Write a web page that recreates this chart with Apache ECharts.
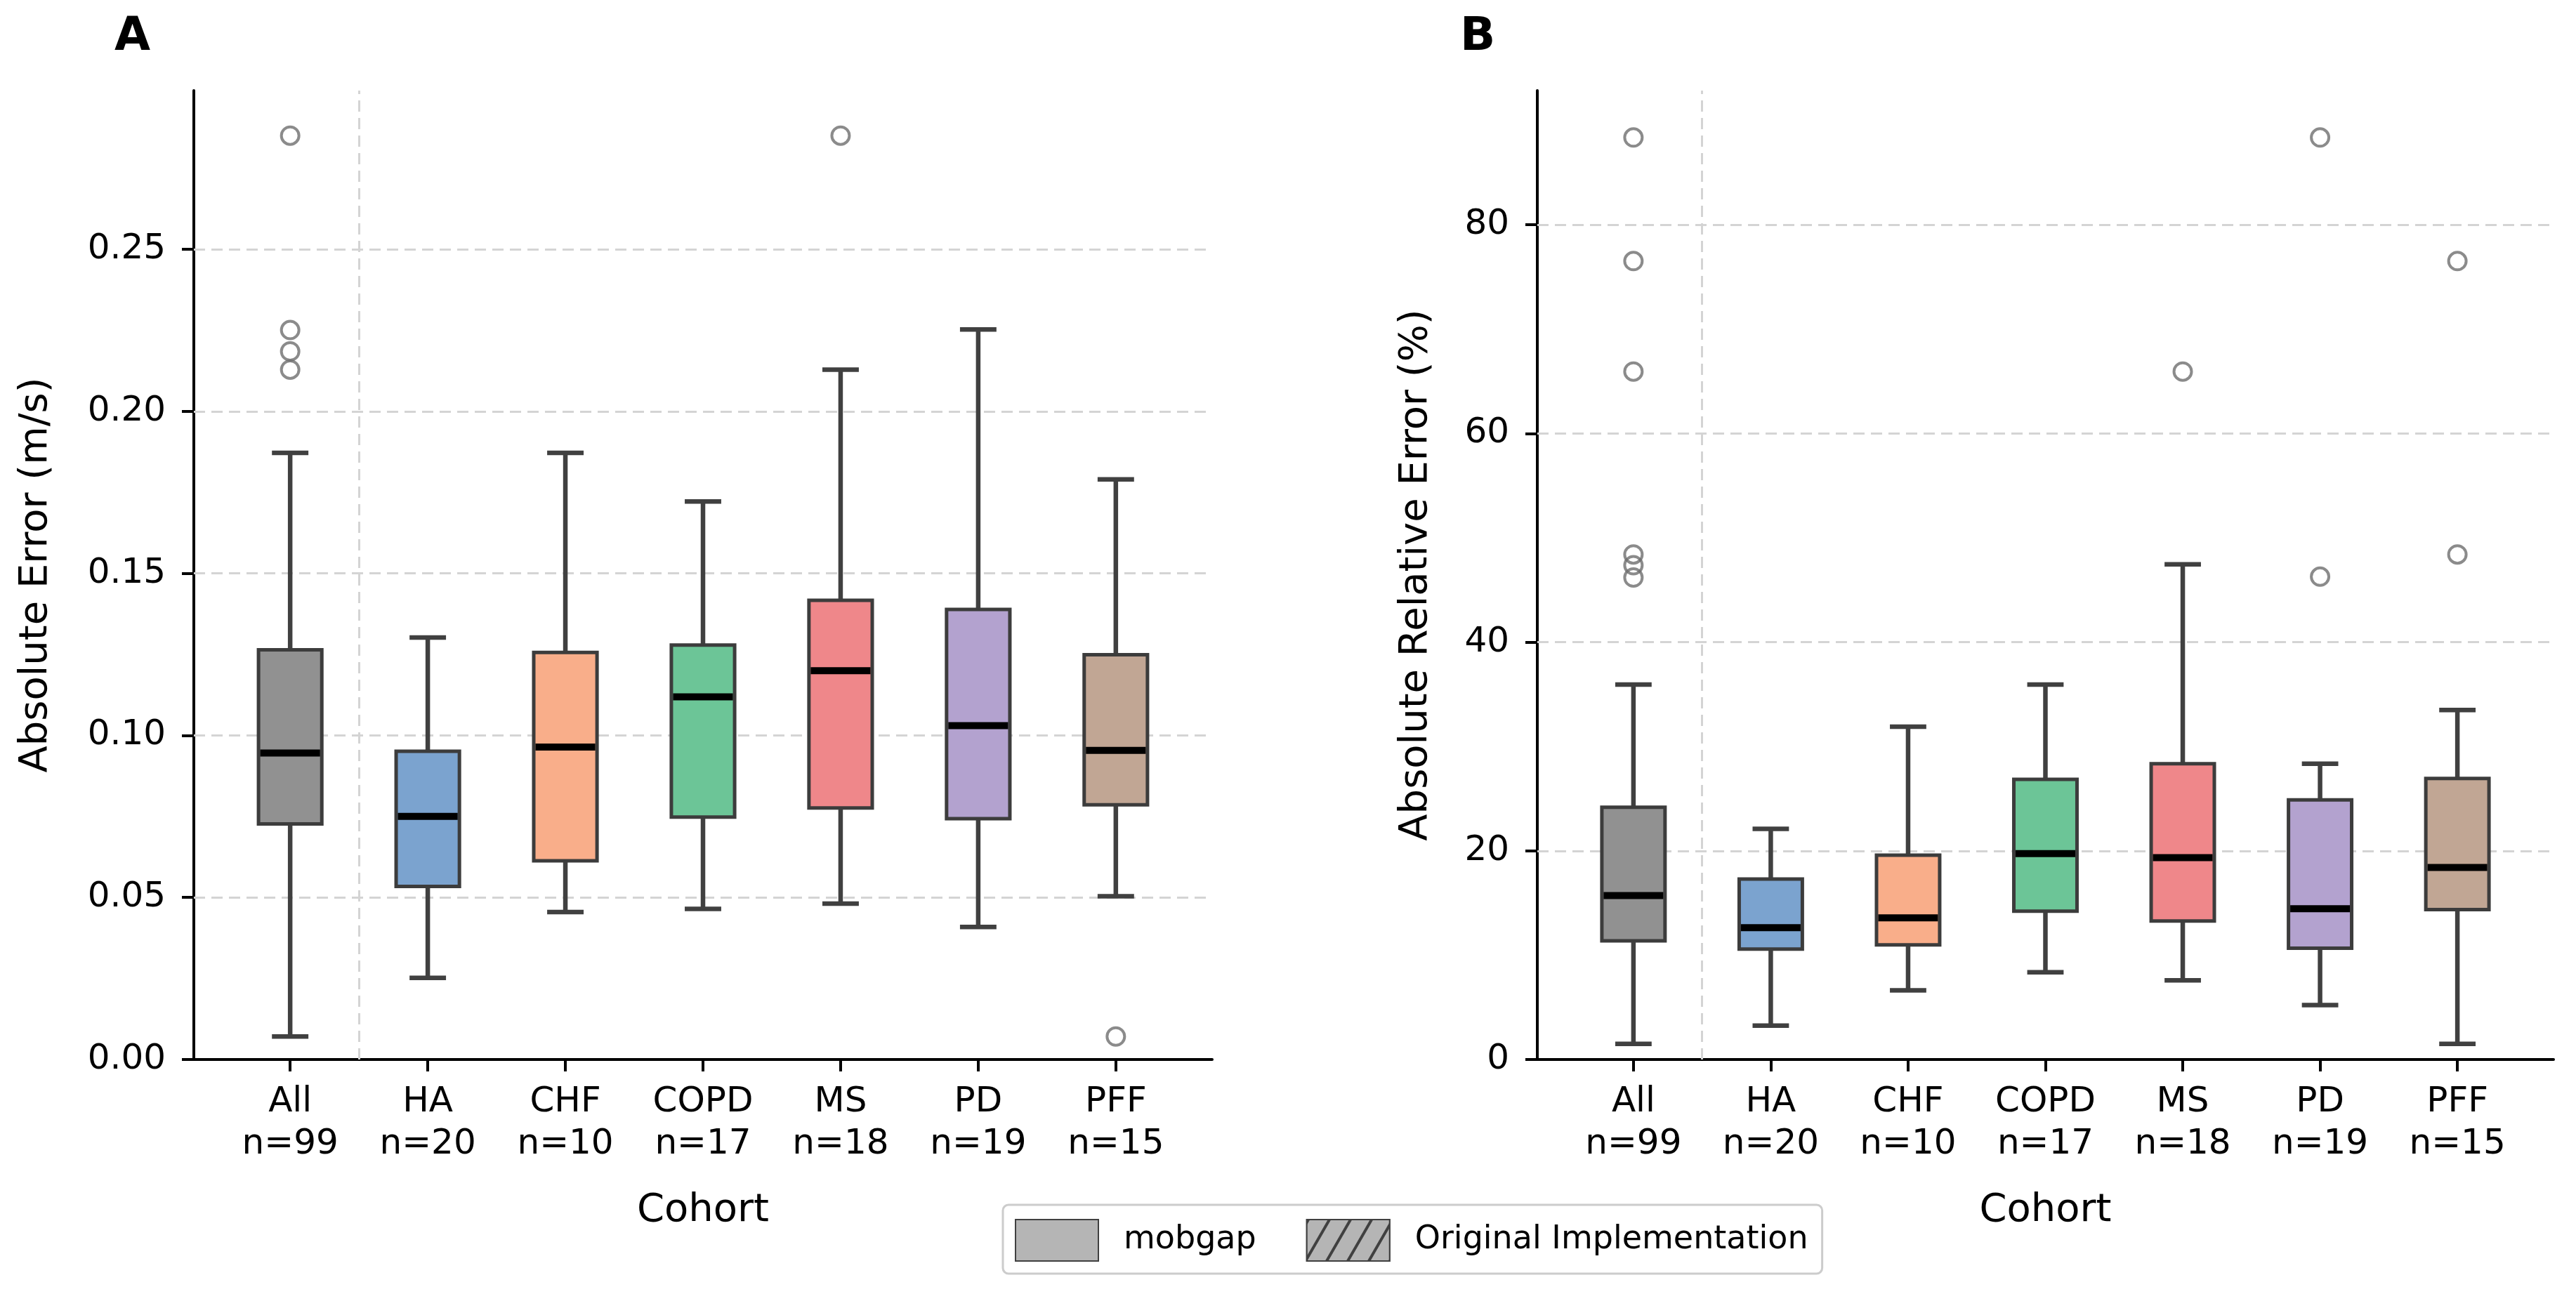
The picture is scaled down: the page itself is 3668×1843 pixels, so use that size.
<!DOCTYPE html>
<html>
<head>
<meta charset="utf-8">
<script src="https://cdn.jsdelivr.net/npm/echarts@6/dist/echarts.min.js"></script>
<style>
  html, body { margin: 0; padding: 0; background: #fff; }
  #boxChart { width: 3668px; height: 1843px; }
</style>
</head>
<body>
<div id="boxChart"></div>
<script>
const cohorts = ['All', 'HA', 'CHF', 'COPD', 'MS', 'PD', 'PFF'];
const counts = [99, 20, 10, 17, 18, 19, 15];

// panel A: absolute error (m/s)
const speedLow = [0.0071, 0.0252, 0.0455, 0.0465, 0.0481, 0.0409, 0.0504];
const speedQ1 = [0.0727, 0.0534, 0.0613, 0.0748, 0.0776, 0.0743, 0.0786];
const speedMedian = [0.0946, 0.0750, 0.0964, 0.1119, 0.1200, 0.1030, 0.0954];
const speedQ3 = [0.1264, 0.0951, 0.1256, 0.1279, 0.1417, 0.1389, 0.1249];
const speedHigh = [0.1872, 0.1302, 0.1872, 0.1722, 0.2129, 0.2253, 0.1790];
const speedOutliers = [[0, 0.2851], [0, 0.2251], [0, 0.2185], [0, 0.2129], [4, 0.2851], [6, 0.0071]];
const speedTicks = [0, 0.05, 0.10, 0.15, 0.20, 0.25];

// panel B: absolute relative error (%)
const relLow = [1.50, 3.24, 6.63, 8.37, 7.58, 5.21, 1.50];
const relQ1 = [11.37, 10.58, 10.98, 14.22, 13.27, 10.66, 14.37];
const relMedian = [15.72, 12.64, 13.58, 19.74, 19.35, 14.45, 18.40];
const relQ3 = [24.17, 17.30, 19.59, 26.85, 28.35, 24.88, 26.93];
const relHigh = [35.93, 22.11, 31.90, 35.93, 47.46, 28.35, 33.49];
const relOutliers = [[0, 88.37], [0, 76.53], [0, 65.94], [0, 48.41], [0, 47.38], [0, 46.20],
  [4, 65.94], [5, 88.37], [5, 46.28], [6, 76.53], [6, 48.41]];
const relTicks = [0, 20, 40, 60, 80];

const positions = [0, 1, 2, 3, 4, 5, 6];
const boxColors = ['#919191', '#7ba3cf', '#f9ae8a', '#6cc597', '#ef878a', '#b3a2cf', '#c1a694'];
const FONT = 'DejaVu Sans';

function boxSeries(idx, low, q1, med, q3, high) {
  return {
    type: 'custom',
    xAxisIndex: idx,
    yAxisIndex: idx,
    z: 10,
    silent: true,
    data: positions.map(function (p, i) { return [p, low[i], q1[i], med[i], q3[i], high[i]]; }),
    encode: { x: 0, y: [1, 2, 3, 4, 5] },
    renderItem: function (params, api) {
      const i = api.value(0);
      const px = api.coord([i, api.value(3)])[0];
      const y = function (d) { return api.coord([i, api.value(d)])[1]; };
      const boxW = api.size([0.46, 0])[0];
      const capW = api.size([0.265, 0])[0];
      const wStyle = { stroke: '#404040', lineWidth: 6.5 };
      return {
        type: 'group',
        children: [
          { type: 'line', shape: { x1: px, y1: y(4), x2: px, y2: y(5) }, style: wStyle },
          { type: 'line', shape: { x1: px, y1: y(2), x2: px, y2: y(1) }, style: wStyle },
          { type: 'line', shape: { x1: px - capW / 2, y1: y(5), x2: px + capW / 2, y2: y(5) }, style: wStyle },
          { type: 'line', shape: { x1: px - capW / 2, y1: y(1), x2: px + capW / 2, y2: y(1) }, style: wStyle },
          {
            type: 'rect',
            shape: { x: px - boxW / 2, y: y(4), width: boxW, height: y(2) - y(4) },
            style: { fill: boxColors[i], stroke: '#3c3c3c', lineWidth: 5 }
          },
          {
            type: 'line',
            shape: { x1: px - boxW / 2 + 2.5, y1: y(3), x2: px + boxW / 2 - 2.5, y2: y(3) },
            style: { stroke: '#000', lineWidth: 10 }
          }
        ]
      };
    }
  };
}

function outlierSeries(idx, points, ticks) {
  return {
    type: 'scatter',
    xAxisIndex: idx,
    yAxisIndex: idx,
    z: 11,
    silent: true,
    symbol: 'circle',
    symbolSize: 25,
    itemStyle: { color: 'rgba(0,0,0,0)', borderColor: '#6e6e6e', borderWidth: 4 },
    data: points,
    markLine: {
      silent: true,
      symbol: 'none',
      label: { show: false },
      lineStyle: { color: '#d4d4d4', type: [16, 9], width: 3 },
      data: ticks.slice(1).map(function (t) { return { yAxis: t }; }).concat([{ xAxis: 0.5 }])
    }
  };
}

function xAxisFor(idx) {
  return {
    type: 'value',
    gridIndex: idx,
    min: -0.7,
    max: 6.7,
    name: 'Cohort',
    nameLocation: 'middle',
    nameGap: 187,
    nameTextStyle: { fontFamily: FONT, fontSize: 56, color: '#000' },
    splitLine: { show: false },
    axisLine: { show: true, onZero: false, lineStyle: { color: '#000', width: 4 } },
    axisTick: { show: true, customValues: positions, length: 17, lineStyle: { color: '#000', width: 4 } },
    axisLabel: {
      customValues: positions,
      margin: 31,
      fontFamily: FONT,
      fontSize: 50,
      lineHeight: 60,
      color: '#000',
      formatter: function (v) {
        const i = Math.round(v);
        return cohorts[i] + '\nn=' + counts[i];
      }
    }
  };
}

function yAxisFor(idx, max, ticks, name, gap, digits) {
  return {
    type: 'value',
    gridIndex: idx,
    min: 0,
    max: max,
    name: name,
    nameLocation: 'middle',
    nameGap: gap,
    nameTextStyle: { fontFamily: FONT, fontSize: 56, color: '#000' },
    splitLine: { show: false },
    axisLine: { show: true, onZero: false, lineStyle: { color: '#000', width: 4 } },
    axisTick: { show: true, customValues: ticks, length: 17, lineStyle: { color: '#000', width: 4 } },
    axisLabel: {
      customValues: ticks,
      margin: 40,
      fontFamily: FONT,
      fontSize: 50,
      color: '#000',
      formatter: function (v) { return v.toFixed(digits); }
    }
  };
}

let boxChart = echarts.init(document.getElementById('boxChart'));
boxChart.setOption({
  animation: false,
  backgroundColor: '#fff',
  title: [
    { text: 'A', left: 158, top: 16, textStyle: { fontFamily: FONT, fontSize: 66, fontWeight: 'bold', color: '#000' } },
    { text: 'B', left: 2074, top: 16, textStyle: { fontFamily: FONT, fontSize: 66, fontWeight: 'bold', color: '#000' } }
  ],
  grid: [
    { left: 276, top: 129, width: 1450, height: 1380 },
    { left: 2189, top: 129, width: 1447, height: 1380 }
  ],
  legend: {
    data: ['mobgap', 'Original Implementation'],
    left: 1428,
    top: 1716,
    orient: 'horizontal',
    icon: 'rect',
    itemWidth: 118,
    itemHeight: 59,
    itemGap: 71,
    padding: [20, 20, 17, 17],
    borderColor: '#cccccc',
    borderWidth: 3,
    borderRadius: 8,
    selectedMode: false,
    textStyle: { fontFamily: FONT, fontSize: 46, color: '#000', padding: [0, 0, 0, 31] }
  },
  xAxis: [xAxisFor(0), xAxisFor(1)],
  yAxis: [
    yAxisFor(0, 0.299, speedTicks, 'Absolute Error (m/s)', 197, 2),
    yAxisFor(1, 92.87, relTicks, 'Absolute Relative Error (%)', 145, 0)
  ],
  series: [
    boxSeries(0, speedLow, speedQ1, speedMedian, speedQ3, speedHigh),
    outlierSeries(0, speedOutliers, speedTicks),
    boxSeries(1, relLow, relQ1, relMedian, relQ3, relHigh),
    outlierSeries(1, relOutliers, relTicks),
    {
      name: 'mobgap',
      type: 'bar',
      data: [],
      itemStyle: { color: '#b5b5b5', borderColor: '#404040', borderWidth: 3.5 }
    },
    {
      name: 'Original Implementation',
      type: 'bar',
      data: [],
      itemStyle: {
        color: '#b5b5b5',
        borderColor: '#404040',
        borderWidth: 3.5,
        decal: {
          symbol: 'rect',
          color: '#404040',
          backgroundColor: '#b5b5b5',
          dashArrayX: [1, 0],
          dashArrayY: [4, 22],
          rotation: -Math.PI / 3
        }
      }
    }
  ]
});
</script>
</body>
</html>
